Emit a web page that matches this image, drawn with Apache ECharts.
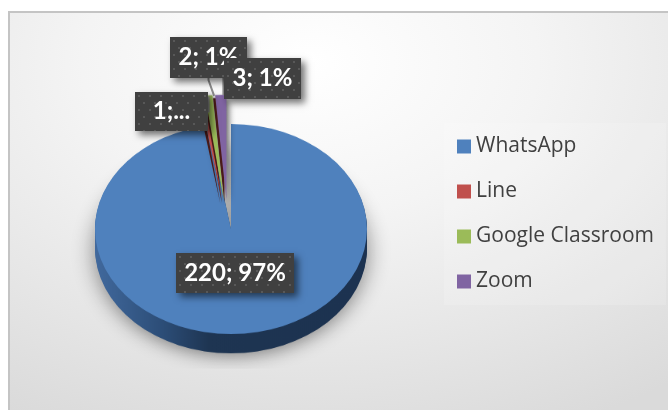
<!DOCTYPE html>
<html>
<head>
<meta charset="utf-8">
<style>
html, body { margin: 0; padding: 0; background: #fff; }
#frame {
	position: absolute; left: 8px; top: 11px; width: 660px; height: 399px;
	border: 2px solid #c4c4c4; border-width: 2px 0 0 2px; box-sizing: border-box;
	background: radial-gradient(ellipse 600px 400px at 300px 50px, #ffffff 0%, #f4f4f4 38%, #e6e6e6 72%, #dadada 100%);
}
#pie { position: absolute; left: 0; top: 0; width: 668px; height: 410px; transform-origin: 0 229px; transform: scaleY(0.772); }
#top { position: absolute; left: 0; top: 0; width: 668px; height: 410px; }
</style>
<script src="https://cdn.jsdelivr.net/npm/echarts@6/dist/echarts.min.js"></script>
</head>
<body>
<div id="frame"></div>
<div id="pie"></div>
<div id="top"></div>
<script>
const names = ['WhatsApp', 'Line', 'Google Classroom', 'Zoom']
const values = [220, 1, 2, 3]
const labelTexts = ['220; 97%', '1;...', '2; 1%', '3; 1%']

const colors = ['#4f81bd', '#c0504d', '#9bbb59', '#8064a2']
const none = 'rgba(0,0,0,0)'
const depths = [25, 23, 21, 19, 17, 15, 13, 11, 9, 7, 5, 3, 1]
// left, top, width, height of the dark label boxes
const boxes = [[176, 253, 118, 40], [135, 92, 73, 39], [170, 37, 77, 41], [224, 58, 77, 41]]

function dotted(w, h) {
	let c = document.createElement('canvas')
	c.width = w
	c.height = h
	let g = c.getContext('2d')
	g.fillStyle = '#404040'
	g.fillRect(0, 0, w, h)
	g.fillStyle = '#585858'
	for (let y = 3, row = 0; y < h; y += 7, row++) {
		for (let x = row % 2 ? 8 : 3; x < w; x += 11) {
			g.fillRect(x, y, 2, 2)
		}
	}
	return c
}

function slicePie(center, palette, style) {
	return {
		type: 'pie',
		silent: true,
		animation: false,
		center,
		radius: [0, 136],
		startAngle: 90,
		selectedMode: 'multiple',
		selectedOffset: 38,
		label: { show: false },
		labelLine: { show: false },
		select: { itemStyle: {} },
		itemStyle: style || {},
		data: names.map((name, i) => ({
			name,
			value: values[i],
			selected: i > 0,
			itemStyle: { color: palette[i] },
		})),
	}
}

const wall = new echarts.graphic.LinearGradient(0, 0, 1, 0, [
	{ offset: 0, color: '#41699d' },
	{ offset: 0.25, color: '#2c4d77' },
	{ offset: 0.42, color: '#1e3552' },
	{ offset: 1, color: '#1c3250' },
])

// the pie itself, squashed into an ellipse by the css transform
let series = depths.map((d, k) => slicePie([231, 229 + d], [wall, none, none, none],
	k == 0 ? { shadowBlur: 22, shadowColor: 'rgba(0,0,0,0.45)', shadowOffsetY: 4 } : {}))
series.push(slicePie([231, 229], [colors[0], none, none, none]))
// pulled out slices, with a dark cut face on their left
series.push(slicePie([226, 233], [none, '#4a1a18', '#4a1a18', '#4a1a18'], { shadowBlur: 6, shadowColor: 'rgba(0,0,0,0.65)', shadowOffsetX: 4 }))
series.push(slicePie([228, 229], [none, colors[1], colors[2], colors[3]]))

let pieChart = echarts.init(document.getElementById('pie'))
pieChart.setOption({ backgroundColor: 'transparent', animation: false, series })

// labels come in two layers: a plain box with shadow and leader line, then the dotted box with the text
function labelPie(labelFor, showLine) {
	return {
		type: 'pie',
		silent: true,
		center: [229, 229],
		radius: [0, 134],
		startAngle: 90,
		itemStyle: { color: none },
		labelLine: { show: showLine, length: 4, length2: 2, lineStyle: { color: '#8c8c8c', width: 2 } },
		labelLayout: function (params) {
			let b = boxes[params.dataIndex]
			return { x: b[0] + b[2] / 2, y: b[1] + b[3] / 2, align: 'center', verticalAlign: 'middle' }
		},
		data: names.map((name, i) => ({
			name,
			value: values[i],
			labelLine: { show: showLine && i > 0 },
			label: {
				show: true,
				position: 'outside',
				width: boxes[i][2],
				height: boxes[i][3],
				lineHeight: boxes[i][3],
				...labelFor(i),
			},
		})),
	}
}

// legend and labels stay unsquashed
let topChart = echarts.init(document.getElementById('top'))
topChart.setOption({
	backgroundColor: 'transparent',
	animation: false,
	legend: {
		orient: 'vertical',
		left: 444,
		top: 123,
		padding: [13, 12, 13, 13],
		backgroundColor: 'rgba(255,255,255,0.15)',
		icon: 'rect',
		itemWidth: 14,
		itemHeight: 14,
		itemGap: 24,
		textStyle: { fontFamily: 'Open Sans', fontSize: 21, color: '#404040' },
		data: names.map((name, i) => ({ name, itemStyle: { color: colors[i] } })),
	},
	series: [
		labelPie(() => ({
			formatter: ' ',
			backgroundColor: '#404040',
			shadowBlur: 7,
			shadowColor: 'rgba(0,0,0,0.55)',
			shadowOffsetX: 4,
			shadowOffsetY: 4,
		}), true),
		labelPie(i => ({
			formatter: labelTexts[i],
			fontFamily: 'Lato',
			fontWeight: 'bold',
			fontSize: 24,
			color: '#fff',
			backgroundColor: { image: dotted(boxes[i][2], boxes[i][3]) },
		}), false),
	],
})
</script>
</body>
</html>
